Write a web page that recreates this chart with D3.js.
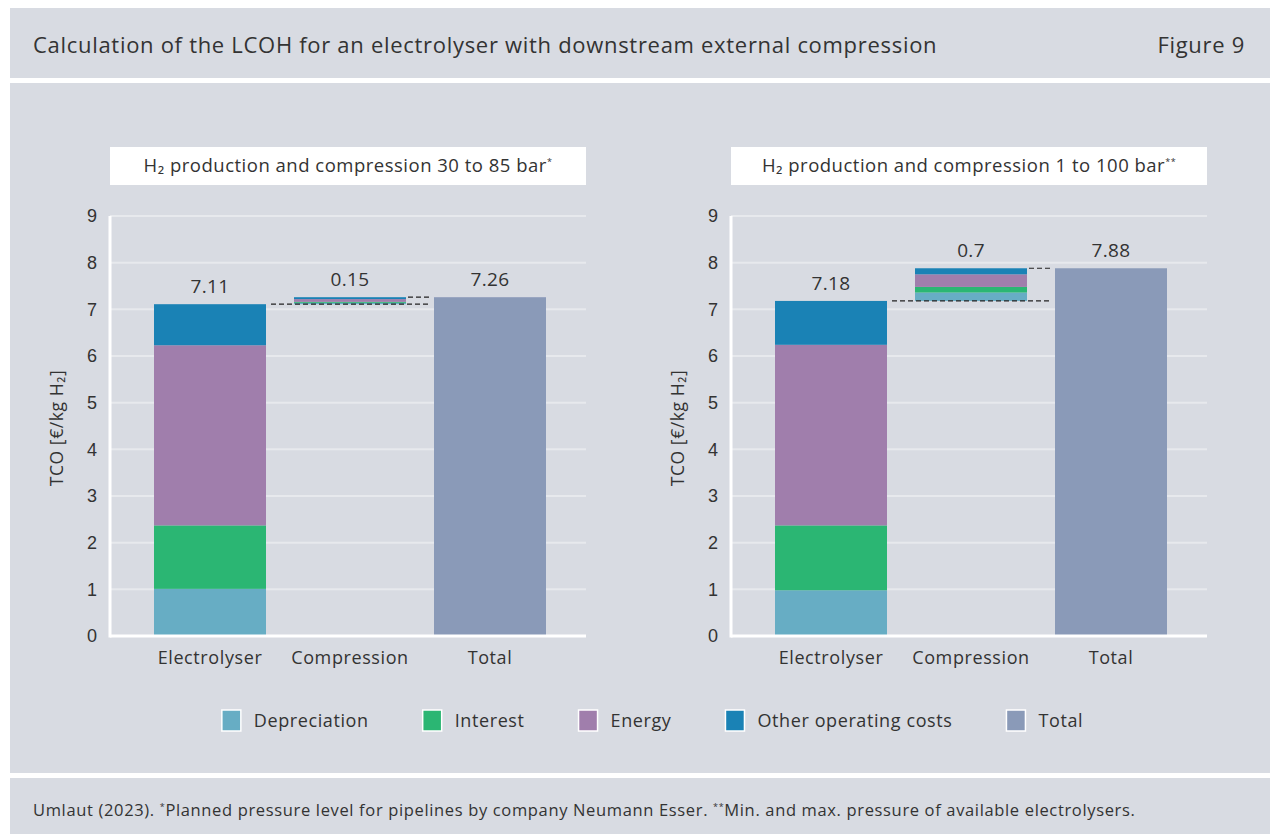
<!DOCTYPE html>
<html>
<head>
<meta charset="utf-8">
<script src="https://cdn.jsdelivr.net/npm/d3@7"></script>
<style>
  body { margin: 0; background: #fff; }
  svg { display: block; font-family: "Open Sans", "Noto Sans", sans-serif; }
</style>
</head>
<body>
<svg id="chart" width="1270" height="834"></svg>
<script>
/*################
Data
################*/
const categories = ['Electrolyser', 'Compression', 'Total'];
const segmentNames = ['Depreciation', 'Interest', 'Energy', 'Other operating costs'];
const legendNames = ['Depreciation', 'Interest', 'Energy', 'Other operating costs', 'Total'];
const colors = ['#67adc4', '#2bb673', '#a07eac', '#1a82b5', '#8a9ab8'];
const yTicks = [0, 1, 2, 3, 4, 5, 6, 7, 8, 9];

// left panel: 30 to 85 bar
const electrolyser30 = [1.01, 1.36, 3.86, 0.88];
const compression30 = [0.03, 0.02, 0.06, 0.04];
const total30 = 7.26;
// right panel: 1 to 100 bar
const electrolyser1 = [0.98, 1.39, 3.87, 0.94];
const compression1 = [0.18, 0.12, 0.27, 0.13];
const total1 = 7.88;

const panels = [
    { title: 'H\u2082 production and compression 30 to 85 bar', star: '*', x: 110, elec: electrolyser30, comp: compression30, total: total30 },
    { title: 'H\u2082 production and compression 1 to 100 bar', star: '**', x: 731, elec: electrolyser1, comp: compression1, total: total1 }
];

const bg = '#d8dbe2', textCol = '#333';
const svg = d3.select('#chart');

/*################
Background panels
################*/
svg.append('rect').attr('x', 10).attr('y', 8).attr('width', 1260).attr('height', 70).attr('fill', bg);
svg.append('rect').attr('x', 10).attr('y', 83).attr('width', 1260).attr('height', 690).attr('fill', bg);
svg.append('rect').attr('x', 10).attr('y', 778).attr('width', 1260).attr('height', 56).attr('fill', bg);

svg.append('text').attr('x', 33).attr('y', 53).attr('font-size', 22).attr('letter-spacing', 0.7).attr('fill', textCol)
    .text('Calculation of the LCOH for an electrolyser with downstream external compression');
svg.append('text').attr('x', 1245).attr('y', 53).attr('font-size', 22).attr('letter-spacing', 0.7).attr('fill', textCol)
    .attr('text-anchor', 'end').text('Figure 9');

const foot = svg.append('text').attr('x', 33).attr('y', 816).attr('font-size', 16.5)
    .attr('letter-spacing', 0.65).attr('fill', textCol);
foot.append('tspan').text('Umlaut (2023). ');
foot.append('tspan').attr('font-size', 9).attr('dy', -6).text('*');
foot.append('tspan').attr('dy', 6).text('Planned pressure level for pipelines by company Neumann Esser. ');
foot.append('tspan').attr('font-size', 9).attr('dy', -6).text('**');
foot.append('tspan').attr('dy', 6).text('Min. and max. pressure of available electrolysers.');

/*################
Panels
################*/
const plotW = 476, plotTop = 216, plotBottom = 636;
const fmt = v => String(+v.toFixed(2));

panels.forEach(p => {
    const g = svg.append('g').attr('transform', `translate(${p.x},0)`);

    const y = d3.scaleLinear().domain([0, 9]).range([plotBottom, plotTop]);
    const x = d3.scaleBand().domain(categories).range([44, 436]).paddingInner(0.2).paddingOuter(0);

    // heading box
    g.append('rect').attr('x', 0).attr('y', 147).attr('width', plotW).attr('height', 38).attr('fill', '#fff');
    const ht = g.append('text').attr('x', plotW / 2).attr('y', 172).attr('text-anchor', 'middle')
        .attr('font-size', 18.5).attr('letter-spacing', 0.5).attr('fill', textCol);
    ht.append('tspan').text(p.title);
    ht.append('tspan').attr('font-size', 9).attr('dy', -7).text(p.star);

    // grid
    g.selectAll('.grid').data(yTicks.filter(t => t > 0)).enter().append('line')
        .attr('x1', 0).attr('x2', plotW)
        .attr('y1', d => y(d)).attr('y2', d => y(d))
        .attr('stroke', '#e7e9ed').attr('stroke-width', 2);

    // y axis
    const yAxis = g.append('g').call(d3.axisLeft(y).tickValues(yTicks).tickSize(0).tickPadding(13));
    yAxis.select('.domain').remove();
    yAxis.selectAll('text').attr('font-size', 18).attr('fill', textCol).attr('font-family', null);

    g.append('text').attr('transform', `translate(-47,${(plotTop + plotBottom) / 2 + 2}) rotate(-90)`)
        .attr('text-anchor', 'middle').attr('font-size', 17.5).attr('letter-spacing', 0.6).attr('fill', textCol)
        .text('TCO [\u20ac/kg H\u2082]');

    // stacked bars
    const elecTop = d3.sum(p.elec);
    const compTop = elecTop + d3.sum(p.comp);
    const stacks = [
        { cat: 'Electrolyser', base: 0, vals: p.elec },
        { cat: 'Compression', base: elecTop, vals: p.comp }
    ];
    stacks.forEach(s => {
        const cum = d3.cumsum(s.vals);
        g.selectAll(null).data(s.vals).enter().append('rect')
            .attr('x', x(s.cat)).attr('width', x.bandwidth())
            .attr('y', (d, i) => y(s.base + cum[i]))
            .attr('height', d => y(0) - y(d))
            .attr('fill', (d, i) => colors[i]);
    });
    g.append('rect').attr('x', x('Total')).attr('width', x.bandwidth())
        .attr('y', y(p.total)).attr('height', y(0) - y(p.total)).attr('fill', colors[4]);

    // dashed connectors
    g.append('line').attr('x1', x('Electrolyser') + x.bandwidth() + 5).attr('x2', x('Total') - 3)
        .attr('y1', y(elecTop)).attr('y2', y(elecTop))
        .attr('stroke', '#222').attr('stroke-width', 1.2).attr('stroke-dasharray', '5,3');
    g.append('line').attr('x1', x('Compression') + x.bandwidth() + 2).attr('x2', x('Total') - 3)
        .attr('y1', y(p.total)).attr('y2', y(p.total))
        .attr('stroke', '#222').attr('stroke-width', 1.2).attr('stroke-dasharray', '5,3');

    // value labels
    const labels = [
        { cat: 'Electrolyser', top: elecTop, v: elecTop },
        { cat: 'Compression', top: compTop, v: d3.sum(p.comp) },
        { cat: 'Total', top: p.total, v: p.total }
    ];
    g.selectAll(null).data(labels).enter().append('text')
        .attr('x', d => x(d.cat) + x.bandwidth() / 2)
        .attr('y', d => y(d.top) - 11)
        .attr('text-anchor', 'middle').attr('font-size', 19).attr('letter-spacing', 0.3).attr('fill', textCol)
        .text(d => fmt(d.v));

    // axis lines
    g.append('line').attr('x1', 0).attr('x2', 0).attr('y1', plotTop).attr('y2', plotBottom + 1.5)
        .attr('stroke', '#fff').attr('stroke-width', 3);
    g.append('line').attr('x1', 0).attr('x2', plotW).attr('y1', plotBottom).attr('y2', plotBottom)
        .attr('stroke', '#fff').attr('stroke-width', 3);

    // x labels
    g.selectAll(null).data(categories).enter().append('text')
        .attr('x', d => x(d) + x.bandwidth() / 2).attr('y', 664)
        .attr('text-anchor', 'middle').attr('font-size', 18).attr('letter-spacing', 0.6).attr('fill', textCol)
        .text(d => d);
});

/*################
Legend
################*/
const legend = svg.append('g');
let lx = 0;
legendNames.forEach((name, i) => {
    const item = legend.append('g').attr('transform', `translate(${lx},0)`);
    item.append('rect').attr('x', 1).attr('y', 710).attr('width', 19).attr('height', 21)
        .attr('fill', colors[i]).attr('stroke', '#fff').attr('stroke-width', 1.5);
    const t = item.append('text').attr('x', 33).attr('y', 727).attr('font-size', 18)
        .attr('letter-spacing', 0.6).attr('fill', textCol).text(name);
    lx += 33 + t.node().getComputedTextLength() + 53;
});
const legendW = lx - 53;
legend.attr('transform', `translate(${652 - legendW / 2},0)`);
</script>
</body>
</html>
